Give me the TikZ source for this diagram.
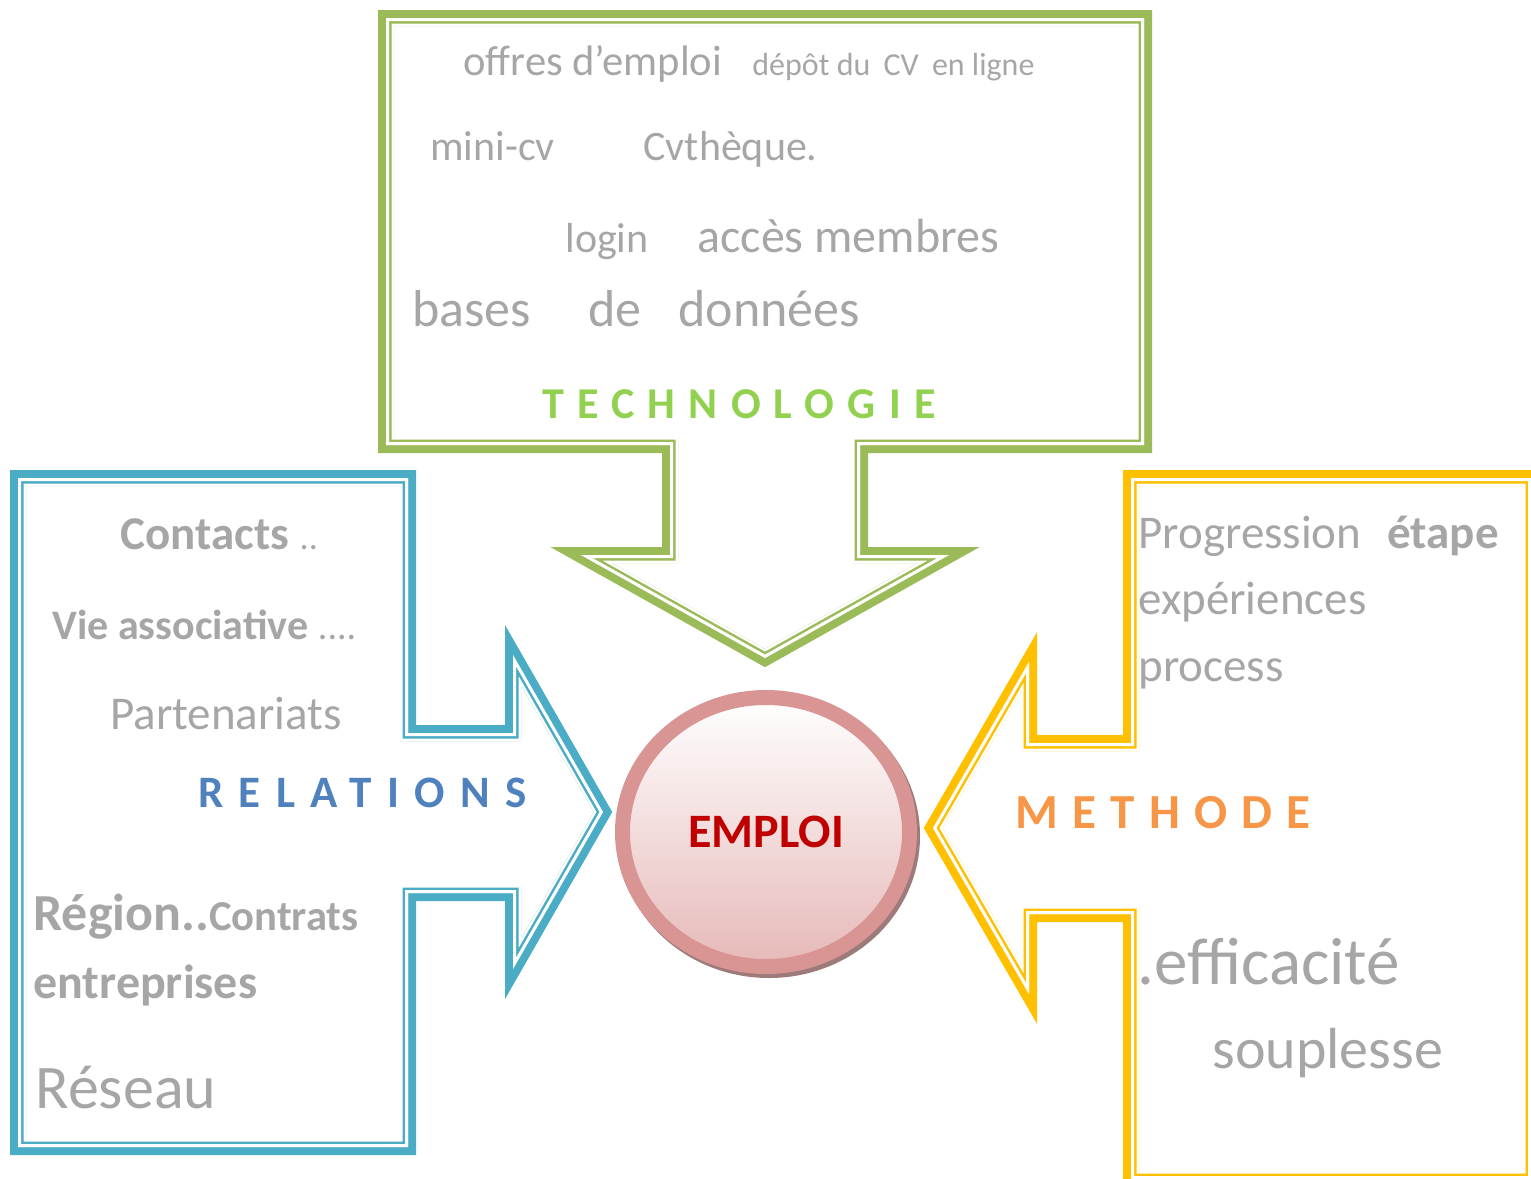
\documentclass[tikz,border=0pt]{standalone}
\usepackage{fontspec}
\setmainfont{Carlito}
\usetikzlibrary{shapes.geometric,positioning}

\definecolor{techline}{HTML}{9BBB59}
\definecolor{techtext}{HTML}{92D050}
\definecolor{relline}{HTML}{4BACC6}
\definecolor{reltext}{HTML}{4F81BD}
\definecolor{methline}{HTML}{FFC000}
\definecolor{methtext}{HTML}{F79646}
\definecolor{wordgray}{HTML}{A6A6A6}
\definecolor{ringpink}{HTML}{D99594}
\definecolor{emplfill}{HTML}{E6B9B8}
\definecolor{emplred}{HTML}{C00000}
\definecolor{ringshade}{HTML}{9E7B7B}

% thick-thin frame: #1 colour, #2 closed path
\newcommand{\dblframe}[2]{%
  \draw[#1, line width=8pt] #2;
  \begin{scope}
    \clip #2;
    \draw[white, line width=8pt] #2;
    \draw[#1, line width=5.5pt] #2;
    \draw[white, line width=3pt] #2;
  \end{scope}}
\newcommand{\fs}[1]{\fontsize{#1}{#1}\selectfont}

\begin{document}
\begin{tikzpicture}[x=0.5pt,y=-0.5pt,line join=miter,
    word/.style={anchor=base west,inner sep=0pt,text=wordgray},
    title/.style={anchor=base west,inner sep=0pt,font=\bfseries}]
\useasboundingbox (0,0) rectangle (1531,1178);

% frames
\dblframe{techline}{(386,18) -- (1144,18) -- (1144,445) -- (860,445) -- (860,555) -- (949,555) -- (765,658) -- (581,555) -- (670,555) -- (670,445) -- (386,445) -- cycle}
\dblframe{relline}{(18,478) -- (408,478) -- (408,733) -- (513,733) -- (513,655) -- (603,812) -- (513,969) -- (513,893) -- (408,893) -- (408,1147) -- (18,1147) -- cycle}
\dblframe{methline}{(1131,478) -- (1531,478) -- (1531,1179) -- (1131,1179) -- (1131,914) -- (1029,914) -- (1029,994) -- (933,828) -- (1029,662) -- (1029,743) -- (1131,743) -- cycle}

% centre
\fill[ringshade] (769,836) ellipse [x radius=151, y radius=142];
\node[ellipse, draw=ringpink, line width=7.5pt, top color=white, bottom color=emplfill,
  minimum width=143.5pt, minimum height=134.5pt, inner sep=0pt,
  font=\bfseries\fs{24}, text=emplred] (emploi) at (766,832) {EMPLOI};

% technologie
\node[word, font=\fs{21.3}] (offres) at (463,75) {offres d’emploi};
\node[word, font=\fs{16}] (depot) at (752,75) {dépôt du\hspace{3pt} CV\hspace{3pt} en ligne};
\node[word, font=\fs{21}] (minicv) at (430,160) {mini-cv};
\node[word, font=\fs{21}] (cvtheque) at (643,160) {Cvthèque.};
\node[word, font=\fs{21}] (login) at (565,252) {login};
\node[word, font=\fs{24}] (acces) at (697,252) {accès membres};
\node[word, font=\fs{26}] (bases) at (412,326) {bases};
\node[word, font=\fs{26}] (de) at (588,326) {de};
\node[word, font=\fs{26}] (donnees) at (678,326) {données};
\node[title, text=techtext, font=\bfseries\fs{22}\addfontfeature{LetterSpace=30}] (tech) at (542,418) {TECHNOLOGIE};

% relations
\node[word, font=\fs{23.5}] (contacts) at (120,549) {\textbf{Contacts} {\fs{18}..}};
\node[word, font=\fs{21}] (vie) at (52,639) {\textbf{Vie associative} {\fs{19}....}};
\node[word, font=\fs{23.5}] (partenariats) at (110,729) {Partenariats};
\node[title, text=reltext, font=\bfseries\fs{22.5}\addfontfeature{LetterSpace=34}] (rel) at (198,807) {RELATIONS};
\node[word, font=\bfseries\fs{26}] (region) at (33,930) {Région..{\fs{21.3}Contrats}};
\node[word, font=\bfseries\fs{24}] (entreprises) at (33,998) {entreprises};
\node[word, font=\fs{31}] (reseau) at (35,1108) {Réseau};

% methode
\node[word, font=\fs{23.5}] (progression) at (1138,548) {Progression\hspace{13pt}\textbf{étape}};
\node[word, font=\fs{23.5}] (experiences) at (1138,614) {expériences};
\node[word, font=\fs{23.5}] (process) at (1138,681) {process};
\node[title, text=methtext, font=\bfseries\fs{24.5}\addfontfeature{LetterSpace=29}] (meth) at (1015,828) {METHODE};
\node[word, font=\fs{33.5}] (efficacite) at (1137,984) {.efficacité};
\node[word, font=\fs{29}] (souplesse) at (1212,1068) {souplesse};
\end{tikzpicture}
\end{document}
